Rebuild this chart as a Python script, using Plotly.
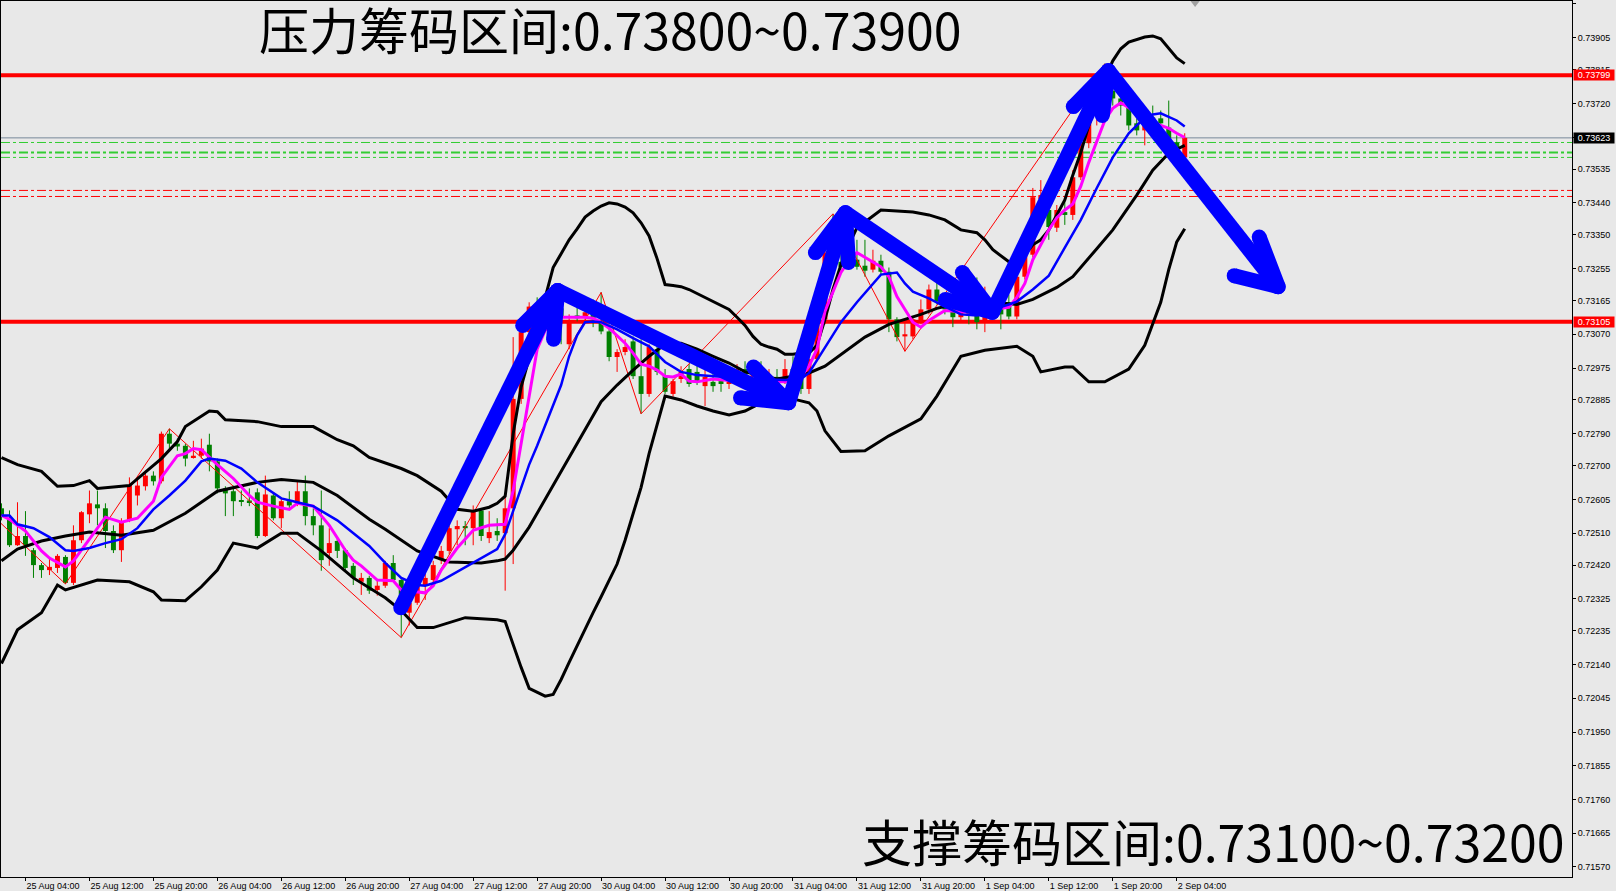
import plotly.graph_objects as go

# ---------------- candles (H1, index 0 = 25 Aug 04:00) ----------------
candle_index = list(range(-3, 146))
open_ = [0.72580, 0.72552, 0.72476, 0.72502, 0.72462, 0.72420, 0.72406, 0.72412, 0.72443, 0.72370,
         0.72490, 0.72563, 0.72591, 0.72580, 0.72516, 0.72462, 0.72546, 0.72616, 0.72642, 0.72672,
         0.72656, 0.72790, 0.72762, 0.72756, 0.72723, 0.72728, 0.72759, 0.72712, 0.72636, 0.72628,
         0.72602, 0.72602, 0.72625, 0.72502, 0.72616, 0.72552, 0.72600, 0.72594, 0.72628, 0.72558,
         0.72532, 0.72454, 0.72488, 0.72462, 0.72418, 0.72373, 0.72384, 0.72350, 0.72362, 0.72426,
         0.72378, 0.72286, 0.72314, 0.72362, 0.72378, 0.72434, 0.72460, 0.72521, 0.72530, 0.72524,
         0.72574, 0.72496, 0.72516, 0.72510, 0.72580, 0.72888, 0.73076, 0.73148, 0.73126, 0.73151,
         0.73143, 0.73042, 0.73123, 0.73118, 0.73126, 0.73106, 0.73078, 0.73006, 0.73020, 0.73050,
         0.72952, 0.72902, 0.73028, 0.72952, 0.72902, 0.72944, 0.72972, 0.72964, 0.72924, 0.72936,
         0.72938, 0.72930, 0.72944, 0.72972, 0.72950, 0.72966, 0.72922, 0.72950, 0.72944, 0.72972,
         0.72944, 0.72916, 0.73000, 0.73112, 0.73294, 0.73274, 0.73260, 0.73280, 0.73263, 0.73252,
         0.73277, 0.73246, 0.73112, 0.73064, 0.73064, 0.73106, 0.73140, 0.73196, 0.73162, 0.73140,
         0.73118, 0.73134, 0.73132, 0.73104, 0.73126, 0.73154, 0.73160, 0.73120, 0.73232, 0.73294,
         0.73451, 0.73420, 0.73370, 0.73414, 0.73406, 0.73512, 0.73608, 0.73686, 0.73762, 0.73756,
         0.73734, 0.73714, 0.73664, 0.73644, 0.73680, 0.73678, 0.73652, 0.73610, 0.73568]
high = [0.72594, 0.72574, 0.72597, 0.72572, 0.72468, 0.72426, 0.72440, 0.72451, 0.72448, 0.72532,
        0.72572, 0.72630, 0.72630, 0.72594, 0.72532, 0.72552, 0.72667, 0.72664, 0.72686, 0.72684,
        0.72796, 0.72804, 0.72776, 0.72762, 0.72770, 0.72776, 0.72790, 0.72720, 0.72642, 0.72644,
        0.72630, 0.72636, 0.72636, 0.72672, 0.72622, 0.72608, 0.72628, 0.72656, 0.72672, 0.72580,
        0.72630, 0.72524, 0.72496, 0.72468, 0.72426, 0.72398, 0.72390, 0.72376, 0.72432, 0.72448,
        0.72384, 0.72328, 0.72398, 0.72395, 0.72432, 0.72474, 0.72532, 0.72546, 0.72544, 0.72588,
        0.72580, 0.72572, 0.72552, 0.72616, 0.73062, 0.73084, 0.73160, 0.73174, 0.73168, 0.73168,
        0.73162, 0.73126, 0.73146, 0.73154, 0.73168, 0.73188, 0.73098, 0.73028, 0.73056, 0.73064,
        0.73056, 0.73042, 0.73042, 0.72972, 0.72944, 0.72980, 0.72986, 0.73020, 0.72972, 0.72972,
        0.72964, 0.72958, 0.72986, 0.72994, 0.72986, 0.72994, 0.72972, 0.72972, 0.73000, 0.73008,
        0.72966, 0.73014, 0.73126, 0.73308, 0.73409, 0.73336, 0.73322, 0.73336, 0.73336, 0.73308,
        0.73294, 0.73258, 0.73118, 0.73106, 0.73118, 0.73168, 0.73210, 0.73216, 0.73182, 0.73176,
        0.73154, 0.73168, 0.73230, 0.73204, 0.73168, 0.73168, 0.73182, 0.73238, 0.73308, 0.73482,
        0.73504, 0.73434, 0.73434, 0.73448, 0.73532, 0.73644, 0.73700, 0.73784, 0.73832, 0.73784,
        0.73742, 0.73728, 0.73678, 0.73672, 0.73714, 0.73700, 0.73728, 0.73630, 0.73636]
low = [0.72546, 0.72471, 0.72474, 0.72446, 0.72384, 0.72384, 0.72392, 0.72398, 0.72367, 0.72364,
       0.72482, 0.72538, 0.72532, 0.72468, 0.72454, 0.72429, 0.72541, 0.72588, 0.72630, 0.72644,
       0.72650, 0.72742, 0.72742, 0.72698, 0.72720, 0.72720, 0.72684, 0.72622, 0.72558, 0.72558,
       0.72586, 0.72586, 0.72496, 0.72499, 0.72546, 0.72524, 0.72580, 0.72586, 0.72532, 0.72504,
       0.72404, 0.72418, 0.72440, 0.72406, 0.72364, 0.72336, 0.72339, 0.72334, 0.72356, 0.72373,
       0.72216, 0.72250, 0.72308, 0.72322, 0.72370, 0.72423, 0.72451, 0.72476, 0.72476, 0.72476,
       0.72488, 0.72482, 0.72488, 0.72348, 0.72423, 0.72874, 0.73067, 0.73098, 0.73106, 0.73084,
       0.73042, 0.73028, 0.73106, 0.73106, 0.73090, 0.73070, 0.72994, 0.72964, 0.73011, 0.72944,
       0.72846, 0.72894, 0.72955, 0.72902, 0.72894, 0.72933, 0.72922, 0.72927, 0.72868, 0.72908,
       0.72908, 0.72916, 0.72936, 0.72930, 0.72916, 0.72910, 0.72894, 0.72910, 0.72930, 0.72888,
       0.72902, 0.72902, 0.72994, 0.73098, 0.73258, 0.73252, 0.73252, 0.73252, 0.73232, 0.73244,
       0.73238, 0.73076, 0.73050, 0.73022, 0.73056, 0.73098, 0.73126, 0.73154, 0.73126, 0.73090,
       0.73106, 0.73098, 0.73084, 0.73076, 0.73118, 0.73084, 0.73112, 0.73112, 0.73224, 0.73286,
       0.73434, 0.73336, 0.73358, 0.73378, 0.73392, 0.73504, 0.73594, 0.73658, 0.73728, 0.73714,
       0.73686, 0.73644, 0.73630, 0.73602, 0.73658, 0.73650, 0.73602, 0.73582, 0.73560]
close = [0.72558, 0.72476, 0.72502, 0.72476, 0.72420, 0.72406, 0.72415, 0.72446, 0.72370, 0.72490,
         0.72569, 0.72594, 0.72580, 0.72516, 0.72462, 0.72544, 0.72644, 0.72644, 0.72672, 0.72656,
         0.72790, 0.72762, 0.72754, 0.72720, 0.72728, 0.72748, 0.72712, 0.72636, 0.72622, 0.72600,
         0.72600, 0.72597, 0.72502, 0.72619, 0.72552, 0.72600, 0.72588, 0.72628, 0.72558, 0.72532,
         0.72434, 0.72482, 0.72460, 0.72412, 0.72384, 0.72384, 0.72348, 0.72362, 0.72426, 0.72378,
         0.72292, 0.72314, 0.72378, 0.72384, 0.72420, 0.72460, 0.72524, 0.72530, 0.72524, 0.72572,
         0.72502, 0.72513, 0.72504, 0.72580, 0.72888, 0.73076, 0.73148, 0.73126, 0.73151, 0.73134,
         0.73118, 0.73109, 0.73115, 0.73132, 0.73112, 0.73078, 0.73006, 0.73020, 0.73034, 0.72952,
         0.72902, 0.73034, 0.72964, 0.72908, 0.72938, 0.72964, 0.72930, 0.72936, 0.72950, 0.72924,
         0.72930, 0.72938, 0.72972, 0.72950, 0.72966, 0.72930, 0.72950, 0.72930, 0.72972, 0.72936,
         0.72916, 0.73000, 0.73112, 0.73300, 0.73274, 0.73260, 0.73286, 0.73260, 0.73249, 0.73277,
         0.73246, 0.73112, 0.73062, 0.73070, 0.73112, 0.73140, 0.73196, 0.73162, 0.73140, 0.73118,
         0.73134, 0.73123, 0.73104, 0.73126, 0.73154, 0.73126, 0.73120, 0.73232, 0.73294, 0.73456,
         0.73462, 0.73372, 0.73420, 0.73406, 0.73512, 0.73608, 0.73686, 0.73756, 0.73750, 0.73734,
         0.73714, 0.73658, 0.73644, 0.73658, 0.73672, 0.73664, 0.73610, 0.73594, 0.73623]

# ---------------- indicators (index, value) ----------------
upper_idx = [-3, -1, 2, 4, 6, 8, 9, 13, 17, 19, 20, 23, 24, 25, 29, 32, 36, 39, 41, 43, 47, 49, 52, 54, 56, 58, 59, 60,
             61, 62, 63, 64, 65, 66, 67, 68, 69, 70, 71, 72, 73, 74, 75, 76, 77, 78, 79, 80, 81, 82, 83, 84, 85, 86,
             87, 88, 89, 90, 91, 92, 93, 94, 95, 96, 97, 98, 99, 100, 101, 102, 103, 104, 105, 106, 107, 109, 111,
             113, 115, 117, 119, 120, 121, 123, 124, 125, 126, 127, 128, 129, 130, 131, 132, 133, 134, 135, 136, 137,
             138, 140, 141, 142, 143, 144, 145]
upper_val = [0.72723, 0.72703, 0.72684, 0.72642, 0.72644, 0.72658, 0.72636, 0.72644, 0.72720, 0.72768, 0.72810,
             0.72854, 0.72852, 0.72829, 0.72824, 0.72810, 0.72810, 0.72773, 0.72756, 0.72723, 0.72692, 0.72672,
             0.72628, 0.72577, 0.72572, 0.72583, 0.72594, 0.72614, 0.72790, 0.72922, 0.73003, 0.73087, 0.73171,
             0.73258, 0.73297, 0.73336, 0.73367, 0.73400, 0.73417, 0.73431, 0.73440, 0.73437, 0.73428, 0.73412,
             0.73384, 0.73347, 0.73283, 0.73210, 0.73207, 0.73204, 0.73196, 0.73185, 0.73174, 0.73162, 0.73151,
             0.73140, 0.73118, 0.73095, 0.73064, 0.73042, 0.73034, 0.73028, 0.73014, 0.73014, 0.73017, 0.73017,
             0.73039, 0.73112, 0.73196, 0.73266, 0.73322, 0.73370, 0.73386, 0.73403, 0.73420, 0.73417, 0.73414,
             0.73406, 0.73392, 0.73364, 0.73356, 0.73336, 0.73308, 0.73274, 0.73274, 0.73294, 0.73322, 0.73336,
             0.73364, 0.73406, 0.73448, 0.73518, 0.73582, 0.73658, 0.73728, 0.73790, 0.73840, 0.73874, 0.73893,
             0.73907, 0.73910, 0.73902, 0.73874, 0.73848, 0.73832]
middle_idx = [-3, -1, 2, 5, 8, 12, 16, 20, 24, 29, 32, 36, 39, 43, 45, 49, 53, 57, 59, 60, 61, 62, 63, 64, 65, 66,
              67, 68, 70, 72, 74, 76, 78, 80, 82, 84, 86, 88, 90, 92, 94, 96, 98, 100, 103, 105, 108, 110, 112,
              114, 116, 119, 121, 124, 126, 129, 131, 134, 136, 139, 141, 143, 145]
middle_val = [0.72432, 0.72465, 0.72488, 0.72502, 0.72513, 0.72504, 0.72518, 0.72566, 0.72628, 0.72653, 0.72661,
              0.72653, 0.72616, 0.72549, 0.72521, 0.72460, 0.72429, 0.72426, 0.72432, 0.72437, 0.72462, 0.72493,
              0.72527, 0.72566, 0.72605, 0.72644, 0.72684, 0.72723, 0.72804, 0.72880, 0.72927, 0.72969, 0.73008,
              0.73042, 0.73045, 0.73028, 0.73008, 0.72989, 0.72964, 0.72955, 0.72944, 0.72952, 0.72961, 0.72980,
              0.73028, 0.73062, 0.73098, 0.73112, 0.73126, 0.73143, 0.73154, 0.73162, 0.73160, 0.73154, 0.73168,
              0.73202, 0.73232, 0.73311, 0.73364, 0.73462, 0.73532, 0.73580, 0.73602]
lower_idx = [-3, -1, 2, 4, 5, 8, 9, 13, 16, 17, 20, 22, 24, 26, 29, 32, 34, 37, 41, 45, 47, 49, 51, 55, 59, 60, 61,
             62, 63, 64, 65, 66, 67, 68, 69, 70, 71, 72, 73, 74, 75, 76, 77, 78, 79, 80, 82, 84, 86, 88, 90, 92,
             94, 96, 98, 99, 100, 102, 105, 108, 112, 114, 117, 120, 124, 126, 127, 130, 131, 133, 135, 138, 140,
             142, 143, 144, 145]
lower_val = [0.72143, 0.72238, 0.72286, 0.72364, 0.72350, 0.72370, 0.72378, 0.72373, 0.72345, 0.72322, 0.72320,
             0.72359, 0.72406, 0.72482, 0.72468, 0.72510, 0.72510, 0.72460, 0.72384, 0.72328, 0.72292, 0.72244,
             0.72244, 0.72272, 0.72266, 0.72261, 0.72196, 0.72132, 0.72073, 0.72062, 0.72051, 0.72056, 0.72098,
             0.72146, 0.72194, 0.72238, 0.72286, 0.72331, 0.72376, 0.72423, 0.72490, 0.72563, 0.72639, 0.72734,
             0.72818, 0.72896, 0.72885, 0.72868, 0.72854, 0.72843, 0.72854, 0.72877, 0.72882, 0.72888, 0.72877,
             0.72854, 0.72798, 0.72740, 0.72742, 0.72784, 0.72832, 0.72896, 0.73008, 0.73025, 0.73036, 0.73008,
             0.72964, 0.72978, 0.72978, 0.72936, 0.72936, 0.72972, 0.73039, 0.73160, 0.73252, 0.73330, 0.73367]
fast_ma_idx = [-3, -2, -1, 0, 2, 3, 5, 6, 8, 10, 12, 14, 16, 17, 19, 20, 21, 22, 24, 26, 28, 29, 31, 33, 34, 36, 38,
               40, 41, 42, 44, 46, 47, 50, 51, 52, 54, 56, 58, 60, 61, 62, 63, 64, 65, 66, 67, 68, 70, 71, 72, 73,
               74, 75, 76, 77, 78, 79, 80, 81, 82, 83, 84, 86, 89, 92, 95, 97, 98, 99, 100, 102, 103, 104, 105, 107,
               108, 109, 111, 112, 113, 115, 118, 120, 122, 123, 124, 125, 126, 127, 128, 129, 130, 131, 132, 133,
               134, 135, 136, 137, 138, 139, 140, 141, 143, 144, 145]
fast_ma_val = [0.72560, 0.72549, 0.72532, 0.72516, 0.72460, 0.72440, 0.72415, 0.72432, 0.72493, 0.72555, 0.72541,
               0.72552, 0.72600, 0.72667, 0.72728, 0.72734, 0.72748, 0.72745, 0.72703, 0.72664, 0.72616, 0.72597,
               0.72586, 0.72577, 0.72594, 0.72586, 0.72532, 0.72462, 0.72434, 0.72418, 0.72378, 0.72376, 0.72350,
               0.72342, 0.72362, 0.72406, 0.72468, 0.72518, 0.72532, 0.72535, 0.72630, 0.72765, 0.72902, 0.73028,
               0.73081, 0.73098, 0.73118, 0.73118, 0.73118, 0.73115, 0.73104, 0.73087, 0.73067, 0.73045, 0.73017,
               0.72986, 0.72980, 0.72969, 0.72952, 0.72950, 0.72958, 0.72938, 0.72936, 0.72944, 0.72938, 0.72936,
               0.72936, 0.72950, 0.72980, 0.73028, 0.73134, 0.73244, 0.73277, 0.73300, 0.73286, 0.73260, 0.73232,
               0.73176, 0.73104, 0.73090, 0.73109, 0.73137, 0.73132, 0.73134, 0.73143, 0.73146, 0.73174, 0.73213,
               0.73280, 0.73322, 0.73364, 0.73398, 0.73420, 0.73437, 0.73487, 0.73554, 0.73613, 0.73672, 0.73706,
               0.73722, 0.73708, 0.73689, 0.73675, 0.73666, 0.73650, 0.73636, 0.73624]
slow_ma_idx = [-3, -2, -1, 1, 3, 5, 6, 8, 10, 12, 14, 16, 18, 20, 22, 23, 25, 27, 29, 32, 34, 36, 39, 41, 43, 45,
               47, 49, 50, 52, 55, 56, 59, 60, 61, 62, 63, 64, 65, 66, 67, 68, 69, 70, 71, 72, 74, 76, 78, 80, 82,
               84, 87, 91, 95, 97, 98, 100, 102, 104, 106, 107, 109, 110, 111, 113, 115, 117, 119, 121, 123, 124,
               126, 128, 130, 132, 134, 136, 138, 140, 141, 142, 144, 145]
slow_ma_val = [0.72560, 0.72560, 0.72535, 0.72524, 0.72499, 0.72462, 0.72460, 0.72468, 0.72482, 0.72493, 0.72524,
               0.72577, 0.72616, 0.72658, 0.72712, 0.72720, 0.72714, 0.72692, 0.72653, 0.72608, 0.72597, 0.72586,
               0.72546, 0.72510, 0.72474, 0.72426, 0.72384, 0.72364, 0.72362, 0.72376, 0.72415, 0.72426, 0.72465,
               0.72507, 0.72574, 0.72636, 0.72703, 0.72756, 0.72812, 0.72868, 0.72927, 0.73008, 0.73067, 0.73104,
               0.73106, 0.73104, 0.73084, 0.73059, 0.73036, 0.72992, 0.72964, 0.72955, 0.72950, 0.72944, 0.72941,
               0.72944, 0.72961, 0.73034, 0.73104, 0.73160, 0.73213, 0.73238, 0.73244, 0.73213, 0.73190, 0.73171,
               0.73148, 0.73126, 0.73123, 0.73140, 0.73154, 0.73162, 0.73196, 0.73235, 0.73314, 0.73392, 0.73482,
               0.73568, 0.73636, 0.73680, 0.73689, 0.73692, 0.73672, 0.73655]
zigzag_idx = [-10, 5, 18, 47, 72, 77, 101, 110, 135]
zigzag_val = [0.72684, 0.72367, 0.72804, 0.72216, 0.73188, 0.72846, 0.73409, 0.73022, 0.73832]

# ---------------- hand-drawn arrows (index, price) ----------------
arrow_tail_idx = [46.94, 66.56, 95.44, 102.56, 120.94, 135.44]
arrow_tail_val = [0.72300, 0.73193, 0.72877, 0.73412, 0.73132, 0.73812]
arrow_tip_idx = [66.56, 95.44, 102.56, 120.94, 135.44, 156.69]
arrow_tip_val = [0.73193, 0.72877, 0.73412, 0.73132, 0.73812, 0.73204]
wing_a_idx = [62.19, 91.06, 98.81, 117.19, 131.06, 154.31]
wing_a_val = [0.73095, 0.72978, 0.73300, 0.73244, 0.73711, 0.73344]
wing_b_idx = [66.06, 89.44, 102.94, 115.06, 134.69, 151.19]
wing_b_val = [0.73056, 0.72891, 0.73272, 0.73168, 0.73686, 0.73235]

# chart-shift marker position (index) at the top edge
shift_marker_idx = [146.3]
shift_marker_val = [0.74004]

# ---------------- levels & axis labels ----------------
resistance_level = 0.73799
support_level = 0.73105
bid_level = 0.73623
green_levels = [0.73610, 0.73582, 0.73568]
green_widths = [1, 2, 1]
red_dash_levels = [0.73475, 0.73458]

x_tick_idx = [0, 8, 16, 24, 32, 40, 48, 56, 64, 72, 80, 88, 96, 104, 112, 120, 128, 136, 144]
x_tick_text = ["25 Aug 04:00", "25 Aug 12:00", "25 Aug 20:00", "26 Aug 04:00", "26 Aug 12:00",
               "26 Aug 20:00", "27 Aug 04:00", "27 Aug 12:00", "27 Aug 20:00", "30 Aug 04:00",
               "30 Aug 12:00", "30 Aug 20:00", "31 Aug 04:00", "31 Aug 12:00", "31 Aug 20:00",
               "1 Sep 04:00", "1 Sep 12:00", "1 Sep 20:00", "2 Sep 04:00"]
y_tick_vals = [0.74000, 0.73905, 0.73815, 0.73720, 0.73625, 0.73535, 0.73440, 0.73350, 0.73255, 0.73165,
               0.73070, 0.72975, 0.72885, 0.72790, 0.72700, 0.72605, 0.72510, 0.72420, 0.72325, 0.72235,
               0.72140, 0.72045, 0.71950, 0.71855, 0.71760, 0.71665, 0.71570]

top_text = "压力筹码区间:0.73800~0.73900"
bottom_text = "支撑筹码区间:0.73100~0.73200"

RED = "#FF0000"
GREEN = "#008000"
BG = "#E8E8E8"

fig = go.Figure()

# candles
for bull, col in ((True, RED), (False, GREEN)):
    sel = [k for k in range(len(candle_index)) if (close[k] >= open_[k]) == bull]
    wx, wy = [], []
    for k in sel:
        wx += [candle_index[k], candle_index[k], None]
        wy += [low[k], high[k], None]
    fig.add_trace(go.Scatter(x=wx, y=wy, mode="lines", line=dict(color=col, width=1),
                             hoverinfo="skip", showlegend=False))
    fig.add_trace(go.Bar(x=[candle_index[k] for k in sel],
                         base=[min(open_[k], close[k]) for k in sel],
                         y=[max(abs(close[k] - open_[k]), 0.00003) for k in sel],
                         width=0.62, marker=dict(color=col, line=dict(width=0)),
                         hoverinfo="skip", showlegend=False))

# zigzag
fig.add_trace(go.Scatter(x=zigzag_idx, y=zigzag_val, mode="lines", line=dict(color=RED, width=1),
                         hoverinfo="skip", showlegend=False))
# bollinger bands
for xs, ys in ((upper_idx, upper_val), (middle_idx, middle_val), (lower_idx, lower_val)):
    fig.add_trace(go.Scatter(x=xs, y=ys, mode="lines", line=dict(color="black", width=3),
                             hoverinfo="skip", showlegend=False))
# moving averages
fig.add_trace(go.Scatter(x=fast_ma_idx, y=fast_ma_val, mode="lines", line=dict(color="#FF00FF", width=3),
                         hoverinfo="skip", showlegend=False))
fig.add_trace(go.Scatter(x=slow_ma_idx, y=slow_ma_val, mode="lines", line=dict(color="#0000FF", width=2.5),
                         hoverinfo="skip", showlegend=False))

# arrows
ax, ay = [], []
for k in range(len(arrow_tip_idx)):
    ax += [arrow_tail_idx[k], arrow_tip_idx[k], None, wing_a_idx[k], arrow_tip_idx[k], wing_b_idx[k], None]
    ay += [arrow_tail_val[k], arrow_tip_val[k], None, wing_a_val[k], arrow_tip_val[k], wing_b_val[k], None]
fig.add_trace(go.Scatter(x=ax, y=ay, mode="lines+markers", line=dict(color="#0000FF", width=15),
                         marker=dict(color="#0000FF", size=15, line=dict(width=0)),
                         hoverinfo="skip", showlegend=False))

# chart shift marker
fig.add_trace(go.Scatter(x=shift_marker_idx, y=shift_marker_val, mode="markers",
                         marker=dict(symbol="triangle-down", size=9, color="#A0A0A0"),
                         cliponaxis=False, hoverinfo="skip", showlegend=False))

# horizontal levels
shapes = []
for lvl in (resistance_level, support_level):
    shapes.append(dict(type="line", xref="paper", x0=0, x1=1, yref="y", y0=lvl, y1=lvl,
                       line=dict(color=RED, width=4), layer="below"))
shapes.append(dict(type="line", xref="paper", x0=0, x1=1, yref="y", y0=bid_level, y1=bid_level,
                   line=dict(color="#778899", width=1), layer="below"))
for lvl, w in zip(green_levels, green_widths):
    shapes.append(dict(type="line", xref="paper", x0=0, x1=1, yref="y", y0=lvl, y1=lvl,
                       line=dict(color="#32CD32", width=w, dash="9px,3px,3px,3px"), layer="below"))
for lvl in red_dash_levels:
    shapes.append(dict(type="line", xref="paper", x0=0, x1=1, yref="y", y0=lvl, y1=lvl,
                       line=dict(color=RED, width=1, dash="9px,3px,3px,3px"), layer="below"))

annotations = []
for lvl, bg in ((resistance_level, RED), (bid_level, "black"), (support_level, RED)):
    annotations.append(dict(xref="paper", x=1, xanchor="left", xshift=1, yref="y", y=lvl, yanchor="middle",
                            text=f"{lvl:.5f}", showarrow=False, bgcolor=bg, width=40, height=10,
                            borderpad=0, align="center",
                            font=dict(family="Liberation Sans", size=9, color="white")))
annotations.append(dict(xref="paper", x=256 / 1572, xanchor="left", yref="paper", y=1, yshift=11,
                        yanchor="top", text=top_text, showarrow=False,
                        font=dict(family="Noto Sans CJK SC", size=50, color="black")))
annotations.append(dict(xref="paper", x=1566 / 1572, xanchor="right", yref="paper", y=1 - 843 / 880,
                        yanchor="middle", text=bottom_text, showarrow=False,
                        font=dict(family="Noto Sans CJK SC", size=50, color="black")))

fig.update_layout(
    width=1616, height=891, autosize=False,
    margin=dict(l=0, r=44, t=0, b=11, pad=0),
    paper_bgcolor=BG, plot_bgcolor=BG,
    barmode="overlay", showlegend=False,
    shapes=shapes, annotations=annotations,
    xaxis=dict(range=[-3.0625, 193.44], showgrid=False, zeroline=False, showline=True, mirror=True,
               linecolor="black", linewidth=1, ticks="outside", ticklen=3, tickcolor="black",
               tickvals=x_tick_idx, ticktext=x_tick_text, ticklabelposition="outside right",
               tickfont=dict(family="Liberation Sans", size=9, color="black")),
    yaxis=dict(range=[0.715418, 0.740084], side="right", showgrid=False, zeroline=False, showline=True,
               mirror=True, linecolor="black", linewidth=1, ticks="outside", ticklen=3, tickcolor="black",
               tickvals=y_tick_vals, ticktext=[f"{v:.5f}" for v in y_tick_vals],
               tickfont=dict(family="Liberation Sans", size=9, color="black")),
)

fig.write_html("out.html", config={"displayModeBar": False},
               post_script="document.body.style.margin='0px';document.body.style.overflow='hidden';"
                           "document.body.style.background='" + BG + "';")
